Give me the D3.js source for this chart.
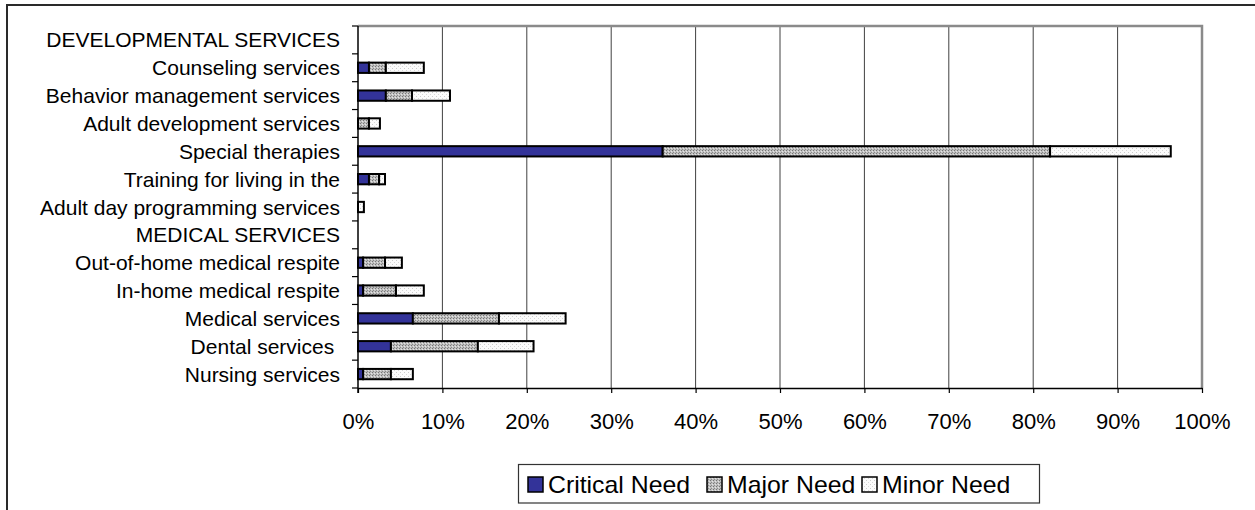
<!DOCTYPE html>
<html>
<head>
<meta charset="utf-8">
<script src="https://cdn.jsdelivr.net/npm/d3@7"></script>
<style>
  html, body { margin: 0; padding: 0; background: #fff; }
  svg { display: block; font-family: "Liberation Sans", Arial, sans-serif; }
  text { white-space: pre; }
</style>
</head>
<body>
<svg id="chart" width="1255" height="510"></svg>
<script>
// Share of respondents reporting each level of need (percent)
const categories = [
  "DEVELOPMENTAL SERVICES",
  "Counseling services",
  "Behavior management services",
  "Adult development services",
  "Special therapies",
  "Training for living in the",
  "Adult day programming services",
  "MEDICAL SERVICES",
  "Out-of-home medical respite",
  "In-home medical respite",
  "Medical services",
  "Dental services ",
  "Nursing services"
];
const criticalNeed = [0, 1.3, 3.3, 0,   36.1, 1.3, 0,   0, 0.6, 0.6,  6.5,  3.9, 0.6];
const majorNeed    = [0, 2.0, 3.1, 1.3, 45.9, 1.2, 0,   0, 2.6, 3.9, 10.2, 10.3, 3.3];
const minorNeed    = [0, 4.5, 4.5, 1.3, 14.3, 0.7, 0.7, 0, 2.0, 3.3,  7.9,  6.6, 2.6];
const seriesNames  = ["Critical Need", "Major Need", "Minor Need"];
const tickValues   = [0, 10, 20, 30, 40, 50, 60, 70, 80, 90, 100];

const svg = d3.select("#chart");
const W = 1255, H = 510;
const plot = { left: 358, right: 1202, top: 26, bottom: 388 };
const FONT = 21;

// Fill patterns for the grey series
const defs = svg.append("defs");
const major = defs.append("pattern").attr("id", "pat-major")
  .attr("patternUnits", "userSpaceOnUse").attr("width", 3).attr("height", 3);
major.append("rect").attr("width", 3).attr("height", 3).attr("fill", "#c0c0c0");
major.append("rect").attr("x", 0).attr("y", 0).attr("width", 1).attr("height", 1).attr("fill", "#767676");
major.append("rect").attr("x", 2).attr("y", 1).attr("width", 1).attr("height", 1).attr("fill", "#e4e4e4");
major.append("rect").attr("x", 1).attr("y", 2).attr("width", 1).attr("height", 1).attr("fill", "#8a8a8a");

const minor = defs.append("pattern").attr("id", "pat-minor")
  .attr("patternUnits", "userSpaceOnUse").attr("width", 4).attr("height", 4);
minor.append("rect").attr("width", 4).attr("height", 4).attr("fill", "#fbfbfb");
minor.append("rect").attr("x", 0).attr("y", 0).attr("width", 1).attr("height", 1).attr("fill", "#cccccc");
minor.append("rect").attr("x", 2).attr("y", 2).attr("width", 1).attr("height", 1).attr("fill", "#d8d8d8");

const fills = ["#333399", "url(#pat-major)", "url(#pat-minor)"];

// Outer frame (left and top edges)
svg.append("path")
  .attr("d", `M7,${H} V5 H${W}`)
  .attr("fill", "none").attr("stroke", "#2a2a2a").attr("stroke-width", 2);

const x = d3.scaleLinear().domain([0, 100]).range([plot.left, plot.right]);
const y = d3.scaleBand().domain(categories).range([plot.top, plot.bottom]).padding(0);
const barH = y.bandwidth() * 0.37;

// Vertical gridlines
svg.append("g").selectAll("line")
  .data(tickValues.filter(v => v > 0 && v < 100))
  .join("line")
  .attr("x1", d => x(d)).attr("x2", d => x(d))
  .attr("y1", plot.top).attr("y2", plot.bottom)
  .attr("stroke", "#404040").attr("stroke-width", 1);

// Plot area border (top and right)
svg.append("path")
  .attr("d", `M${plot.left},${plot.top} H${x(100)} V${plot.bottom}`)
  .attr("fill", "none").attr("stroke", "#8a8a8a").attr("stroke-width", 2.5);

// Stacked bars
const rows = categories.map((c, i) => ({
  category: c,
  "Critical Need": criticalNeed[i],
  "Major Need": majorNeed[i],
  "Minor Need": minorNeed[i]
}));
const stacked = d3.stack().keys(seriesNames)(rows);

svg.append("g").selectAll("g")
  .data(stacked)
  .join("g")
  .attr("fill", (d, i) => fills[i])
  .selectAll("rect")
  .data(d => d.filter(s => s[1] - s[0] > 0))
  .join("rect")
  .attr("x", d => x(d[0]))
  .attr("width", d => x(d[1]) - x(d[0]))
  .attr("y", d => y(d.data.category) + y.bandwidth() / 2 - barH / 2)
  .attr("height", barH)
  .attr("stroke", "#000").attr("stroke-width", 2);

// Bottom axis
const xAxis = svg.append("g")
  .attr("transform", `translate(0,${plot.bottom})`)
  .call(d3.axisBottom(x).tickValues(tickValues).tickFormat(d => d + "%")
    .tickSize(5).tickPadding(20).tickSizeOuter(0));
xAxis.select(".domain").attr("stroke", "#000").attr("stroke-width", 1.5);
xAxis.selectAll(".tick line").attr("stroke", "#000").attr("stroke-width", 1.2);
xAxis.selectAll("text").attr("font-size", 22).attr("font-family", "Liberation Sans, Arial, sans-serif")
  .attr("fill", "#000");

// Left axis: category labels, ticks between categories
const yAxis = svg.append("g")
  .attr("transform", `translate(${plot.left},0)`)
  .call(d3.axisLeft(y).tickSize(0).tickPadding(18));
yAxis.select(".domain").remove();
yAxis.selectAll("text").attr("font-size", FONT).attr("font-family", "Liberation Sans, Arial, sans-serif")
  .attr("fill", "#000").attr("dy", "0.36em");

const boundaries = categories.map(c => y(c)).concat([y.range()[1]]);
svg.append("g").selectAll("line")
  .data(boundaries)
  .join("line")
  .attr("x1", plot.left - 6).attr("x2", plot.left)
  .attr("y1", d => d).attr("y2", d => d)
  .attr("stroke", "#000").attr("stroke-width", 1.2);
svg.append("line")
  .attr("x1", plot.left).attr("x2", plot.left)
  .attr("y1", plot.top).attr("y2", plot.bottom + 5)
  .attr("stroke", "#000").attr("stroke-width", 1.5);

// Legend
const legend = svg.append("g");
legend.append("rect")
  .attr("x", 518.5).attr("y", 464.5).attr("width", 521).attr("height", 38.5)
  .attr("fill", "#fff").attr("stroke", "#333").attr("stroke-width", 1.2);
const legendX = [528, 707, 862];
const item = legend.selectAll("g.item")
  .data(seriesNames)
  .join("g").attr("class", "item")
  .attr("transform", (d, i) => `translate(${legendX[i]},0)`);
item.append("rect")
  .attr("x", 0).attr("y", 477).attr("width", 15).attr("height", 15)
  .attr("fill", (d, i) => fills[i])
  .attr("stroke", "#000").attr("stroke-width", 1.5);
item.append("text")
  .attr("transform", "translate(20,492.5) scale(1.08,1)")
  .attr("font-size", 23)
  .attr("fill", "#000")
  .text(d => d);
</script>
</body>
</html>
